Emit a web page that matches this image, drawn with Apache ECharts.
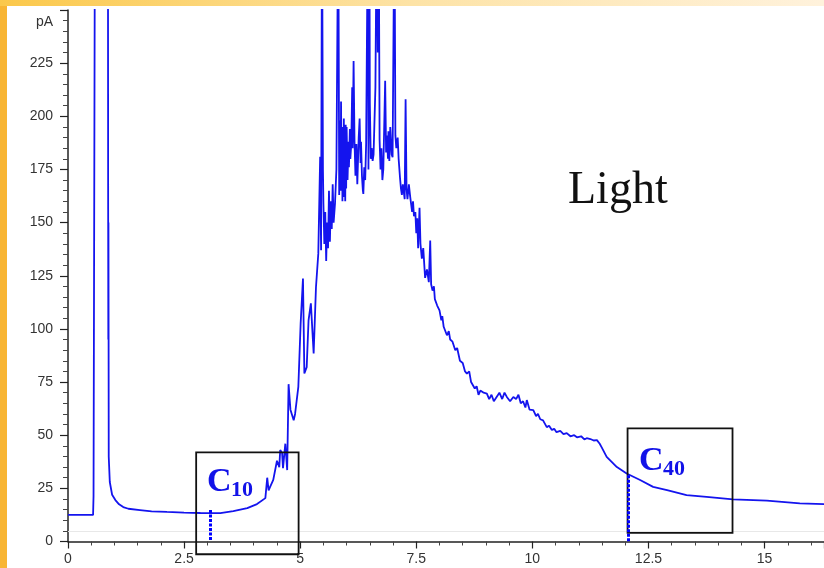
<!DOCTYPE html>
<html>
<head>
<meta charset="utf-8">
<script src="https://cdn.jsdelivr.net/npm/echarts@6/dist/echarts.min.js"></script>
<style>
  html, body { margin: 0; padding: 0; background: #fff; }
  #fid_chart { width: 824px; height: 568px; }
</style>
</head>
<body>
<div id="fid_chart"></div>
<script>
// retention time (min)
var time = [
  0, 0.3, 0.54, 0.55, 0.57, 0.58, 0.86, 0.865, 0.868, 0.871, 0.874, 0.877, 0.9, 0.95,
  1.02, 1.1, 1.19, 1.3, 1.55, 1.8, 2.13, 2.5, 2.85, 3.28, 3.56, 3.86, 4.07, 4.25,
  4.29, 4.32, 4.35, 4.42, 4.5, 4.55, 4.57, 4.61, 4.63, 4.68, 4.72, 4.75, 4.79, 4.82,
  4.86, 4.89, 4.96, 5.01, 5.06, 5.09, 5.14, 5.18, 5.23, 5.29, 5.34, 5.39, 5.43, 5.45,
  5.47, 5.49, 5.5, 5.52, 5.54, 5.56, 5.58, 5.6, 5.62, 5.64, 5.66, 5.68, 5.7, 5.72,
  5.75, 5.78, 5.82, 5.84, 5.86, 5.87, 5.88, 5.89, 5.9, 5.91, 5.92, 5.93, 5.94, 5.95,
  5.96, 5.97, 5.98, 5.99, 6.0, 6.02, 6.04, 6.05, 6.07, 6.08, 6.1, 6.12, 6.13, 6.15,
  6.17, 6.19, 6.21, 6.23, 6.26, 6.28, 6.3, 6.31, 6.33, 6.35, 6.36, 6.38, 6.4, 6.42,
  6.46, 6.47, 6.49, 6.5, 6.52, 6.54, 6.56, 6.58, 6.62, 6.65, 6.67, 6.69, 6.71, 6.73,
  6.75, 6.77, 6.79, 6.83, 6.85, 6.87, 6.89, 6.9, 6.92, 6.94, 6.97, 6.99, 7.03, 7.05,
  7.07, 7.1, 7.12, 7.15, 7.17, 7.19, 7.21, 7.25, 7.27, 7.29, 7.31, 7.34, 7.37, 7.41,
  7.43, 7.45, 7.48, 7.5, 7.52, 7.54, 7.57, 7.59, 7.62, 7.65, 7.69, 7.73, 7.77, 7.8,
  7.82, 7.85, 7.88, 7.9, 7.95, 8.0, 8.04, 8.06, 8.09, 8.12, 8.16, 8.2, 8.23, 8.28,
  8.34, 8.38, 8.44, 8.5, 8.55, 8.59, 8.64, 8.68, 8.72, 8.76, 8.8, 8.84, 8.88, 8.95,
  9.02, 9.07, 9.12, 9.17, 9.23, 9.29, 9.35, 9.4, 9.45, 9.52, 9.59, 9.65, 9.7, 9.75,
  9.8, 9.85, 9.88, 9.94, 10.02, 10.08, 10.12, 10.17, 10.23, 10.31, 10.36, 10.42, 10.47, 10.52,
  10.6, 10.67, 10.74, 10.82, 10.9, 10.96, 11.05, 11.12, 11.17, 11.25, 11.32, 11.39, 11.45, 11.49,
  11.6, 11.82, 12.03, 12.32, 12.6, 12.9, 13.32, 13.75, 14.32, 15.05, 15.76, 16.28
];
// detector signal (pA); spikes leave the top of the plot
var signal = [
  12.5, 12.5, 12.5, 21.5, 22, 300, 300, 156, 95, 150, 97, 40, 28, 22,
  19.5, 17.5, 16.2, 15.4, 14.8, 14.2, 13.9, 13.6, 13.4, 13.3, 14.3, 15.7, 17.6, 20.4,
  30, 24, 25.6, 29, 38, 35, 43, 41.6, 34.5, 46, 33.6, 74, 62, 61.8,
  57, 60, 72.7, 102.6, 123.7, 79, 82, 104, 112, 88.5, 119.6, 135.4, 181, 137,
  300, 175, 159, 140, 155, 132, 150, 138, 165, 141, 160, 147, 168, 150,
  159, 175, 300, 163, 198, 165, 207, 170, 195, 160, 192, 168, 199, 162,
  190, 160, 196, 166, 195, 170, 188, 176, 194, 180, 187, 213.6, 185, 226,
  188, 172, 187, 168, 190, 199, 178, 188, 172, 165, 163.5, 176, 170, 187,
  300, 175, 300, 206, 180, 185, 179, 182, 213.6, 300, 230, 300, 189, 175,
  185, 170, 175, 216.7, 183, 191, 180, 193, 179, 195, 182, 180.7, 300, 191,
  185, 190, 180, 171, 166, 163, 168, 161, 208, 166, 161, 168, 162, 155,
  160, 153, 155, 145, 152, 138, 157, 140, 133, 138, 124, 128, 122, 141.6,
  121, 118, 120, 114, 111, 108.7, 104, 106, 101, 100.8, 97, 99, 95, 94,
  90, 91, 85, 84, 80, 79, 80, 75, 75.8, 72, 73, 69, 71, 70,
  69.6, 67, 69, 66, 68, 70, 67, 70, 68, 66, 68, 67, 69, 65,
  66, 63, 66.5, 62, 61.8, 59, 60, 57.5, 57, 53.8, 54.5, 52.5, 53, 51.4,
  52, 50.5, 51, 49.5, 50, 49, 49.5, 48, 48.6, 48.2, 47.5, 47.7, 46, 44.4,
  39.8, 35, 32, 28.9, 25.7, 24.2, 21.8, 21, 19.8, 19.2, 17.9, 17.6
];
var yTicks = [0, 25, 50, 75, 100, 125, 150, 175, 200, 225];
var xTicks = [0, 2.5, 5, 7.5, 10, 12.5, 15];

// n-alkane windows: [name, sub, box x0, x1, y0, y1, marker x, marker top]
var c10 = ['C', '10', 2.76, 4.966, -6, 41.9, 3.05, 14.8];
var c40 = ['C', '40', 12.05, 14.31, 4.1, 53.2, 12.05, 31.2];

var myChart = echarts.init(document.getElementById('fid_chart'));

var pts = time.map(function (t, i) { return [t, signal[i]]; });

var option = {
  animation: false,
  backgroundColor: '#fff',
  grid: { left: 68, right: 0, top: 10, bottom: 26.5 },
  xAxis: {
    type: 'value',
    min: 0,
    max: 16.28,
    interval: 2.5,
    axisLine: { lineStyle: { color: '#222', width: 1.5 } },
    axisTick: { length: 7, lineStyle: { color: '#222', width: 1.2 } },
    minorTick: { show: true, splitNumber: 5, length: 4, lineStyle: { color: '#444' } },
    splitLine: { show: false },
    axisLabel: {
      margin: 11, fontSize: 14, color: '#333', fontFamily: 'Liberation Sans',
      showMaxLabel: false,
      formatter: function (v) { return xTicks.indexOf(v) >= 0 ? String(v) : ''; }
    }
  },
  yAxis: {
    type: 'value',
    min: 0,
    max: 250,
    interval: 25,
    axisLine: { show: true, lineStyle: { color: '#222', width: 1.5 } },
    axisTick: { show: true, length: 8, lineStyle: { color: '#222', width: 1.2 } },
    minorTick: { show: true, splitNumber: 5, length: 5, lineStyle: { color: '#444' } },
    splitLine: { show: false },
    axisLabel: {
      margin: 15, fontSize: 14, color: '#333', fontFamily: 'Liberation Sans',
      formatter: function (v) { return yTicks.indexOf(v) >= 0 ? String(v) : ''; }
    }
  },
  series: [{
    type: 'line',
    data: pts,
    showSymbol: false,
    clip: true,
    lineStyle: { color: '#1414ee', width: 1.8 },
    markLine: {
      silent: true,
      symbol: 'none',
      label: { show: false },
      lineStyle: { color: '#e8e8e8', width: 1, type: 'solid' },
      data: [ [{ coord: [0, 4.6] }, { coord: [16.28, 4.6] }] ]
    }
  }]
};

myChart.setOption(option);

function px(x, y) {
  return myChart.convertToPixel({ gridIndex: 0 }, [x, y]);
}

function boxOf(a) {
  var p0 = px(a[2], a[5]);
  var p1 = px(a[3], a[4]);
  return {
    type: 'rect',
    shape: { x: p0[0], y: p0[1], width: p1[0] - p0[0], height: p1[1] - p0[1] },
    style: { fill: 'none', stroke: '#111', lineWidth: 1.8 },
    z: 10
  };
}

function markerOf(a) {
  var p0 = px(a[6], a[7]);
  var p1 = px(a[6], 0);
  var x = Math.round(p0[0]) + 0.5;
  return {
    type: 'line',
    shape: { x1: x, y1: p0[1], x2: x, y2: p1[1] },
    style: { stroke: '#0000ff', lineWidth: 3, lineDash: [3, 1.5] },
    z: 12
  };
}

function labelOf(a, x, yC, ySub) {
  var serif = 'bold {s}px "Liberation Serif", "DejaVu Serif", serif';
  return [
    { type: 'text', x: x, y: yC, z: 11,
      style: { text: a[0], font: serif.replace('{s}', 34), fill: '#1212e8', verticalAlign: 'middle' } },
    { type: 'text', x: x + 24, y: ySub, z: 11,
      style: { text: a[1], font: serif.replace('{s}', 22), fill: '#1212e8', verticalAlign: 'middle' } }
  ];
}

var graphics = [
  // slide frame
  { type: 'rect', shape: { x: 0, y: 0, width: 7, height: 568 }, style: { fill: '#f8b534' }, z: 20 },
  { type: 'rect', shape: { x: 0, y: 0, width: 824, height: 6 }, z: 20,
    style: { fill: new echarts.graphic.LinearGradient(0, 0, 1, 0, [
      { offset: 0, color: '#fbc84a' }, { offset: 0.5, color: '#fde3a6' }, { offset: 1, color: '#fff2dc' }
    ]) } },
  { type: 'text', x: 53, y: 22, style: { text: 'pA', font: '14px "Liberation Sans"', fill: '#333', align: 'right', verticalAlign: 'middle' } },
  { type: 'text', x: 568, y: 191, style: { text: 'Light', font: '46px "Liberation Serif", serif', fill: '#111', verticalAlign: 'middle' } },
  boxOf(c10),
  boxOf(c40),
  markerOf(c10),
  markerOf(c40)
].concat(labelOf(c10, 207, 482, 490.5), labelOf(c40, 639, 461, 469.5));

myChart.setOption({ graphic: graphics });
</script>
</body>
</html>
